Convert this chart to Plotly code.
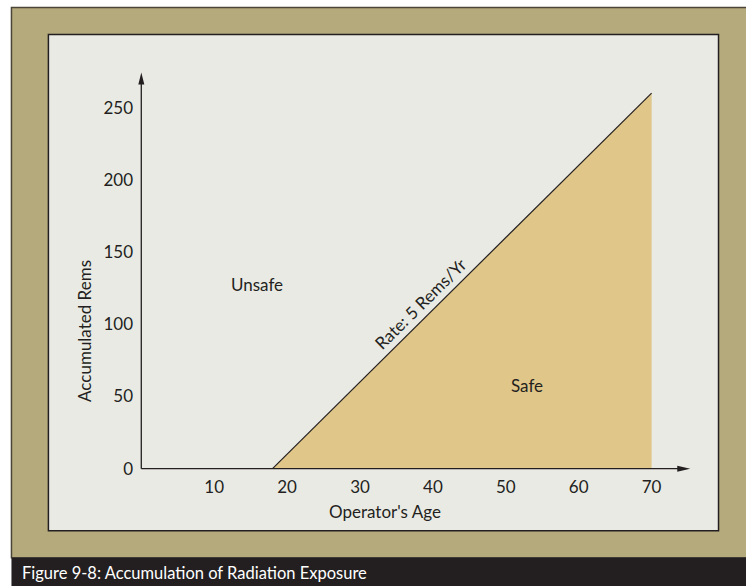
import plotly.graph_objects as go

# --- data -------------------------------------------------------------
safe_ages = [18, 70]          # operator's age where the 5 rem/yr allowance runs
safe_rems = [0, 260]          # accumulated rems at those ages (5 * (age - 18))
x_ticks = [10, 20, 30, 40, 50, 60, 70]
y_ticks = [0, 50, 100, 150, 200, 250]
x_axis_end = 75.3             # tip of the age axis arrow
y_axis_end = 274.2            # tip of the rems axis arrow

# --- styling ----------------------------------------------------------
FONT = "Lato, Roboto, sans-serif"
INK = "#231f20"
FRAME = "#b5aa7c"
PANEL = "#eaeae5"
SAFE_FILL = "#e0c688"

W, H = 746, 586
X_RANGE = [-1.0, 76.5]
Y_RANGE = [-3.0, 276.0]
PX_X = 7.3      # pixels per year
PX_Y = 1.444    # pixels per rem
ORIGIN = (141, 469)  # pixel position of (0, 0)

plot_w = (X_RANGE[1] - X_RANGE[0]) * PX_X
plot_h = (Y_RANGE[1] - Y_RANGE[0]) * PX_Y
m_l = ORIGIN[0] + X_RANGE[0] * PX_X
m_b = H - (ORIGIN[1] - Y_RANGE[0] * PX_Y)
m_t = H - m_b - plot_h
m_r = W - m_l - plot_w


def px(x):
    return (x - m_l) / plot_w


def py(y):
    return (H - m_b - y) / plot_h


fig = go.Figure()

# safe region under the allowance line
fig.add_trace(go.Scatter(
    x=[safe_ages[0], safe_ages[1], safe_ages[1]],
    y=[safe_rems[0], safe_rems[1], safe_rems[0]],
    fill="toself", fillcolor=SAFE_FILL, mode="lines",
    line=dict(width=0), hoverinfo="skip", showlegend=False,
))
# allowance line
fig.add_trace(go.Scatter(
    x=safe_ages, y=safe_rems, mode="lines",
    line=dict(color=INK, width=1.2), hoverinfo="skip", showlegend=False,
))
# axis lines
fig.add_trace(go.Scatter(
    x=[0, x_axis_end - 1.0], y=[0, 0], mode="lines",
    line=dict(color=INK, width=1.3), hoverinfo="skip", showlegend=False,
))
fig.add_trace(go.Scatter(
    x=[0, 0], y=[0, y_axis_end - 6], mode="lines",
    line=dict(color=INK, width=1.3), hoverinfo="skip", showlegend=False,
))

shapes = [
    # outer tan frame
    dict(type="rect", xref="paper", yref="paper", layer="below",
         x0=px(11), x1=px(760), y0=py(558), y1=py(8),
         fillcolor=FRAME, line=dict(color="#4a4538", width=1.5)),
    # caption bar
    dict(type="rect", xref="paper", yref="paper", layer="below",
         x0=px(11), x1=px(760), y0=py(600), y1=py(558),
         fillcolor=INK, line=dict(width=0)),
    # inner panel
    dict(type="rect", xref="paper", yref="paper", layer="below",
         x0=px(48), x1=px(719), y0=py(531), y1=py(35),
         fillcolor=PANEL, line=dict(color=INK, width=1.5)),
    # arrowheads
    dict(type="path", xref="x", yref="y", fillcolor=INK, line=dict(width=0),
         path=f"M {x_axis_end},0 L {x_axis_end - 13 / PX_X},{3 / PX_Y} "
              f"L {x_axis_end - 13 / PX_X},{-3 / PX_Y} Z"),
    dict(type="path", xref="x", yref="y", fillcolor=INK, line=dict(width=0),
         path=f"M 0,{y_axis_end} L {3 / PX_X},{y_axis_end - 12 / PX_Y} "
              f"L {-3 / PX_X},{y_axis_end - 12 / PX_Y} Z"),
]

txt = dict(family=FONT, size=17, color=INK)
annotations = [
    dict(text="Unsafe", x=15.9, y=127.4, xref="x", yref="y",
         showarrow=False, font=txt),
    dict(text="Safe", x=52.9, y=57.5, xref="x", yref="y",
         showarrow=False, font=txt),
    dict(text="Rate: 5 Rems/Yr", x=38.3, y=114.5, xref="x", yref="y",
         showarrow=False, font=txt, textangle=-44.7),
    dict(text="Operator's Age", x=33.4, y=py(512), xref="x", yref="paper",
         xanchor="center", yanchor="middle", showarrow=False, font=txt),
    dict(text="Accumulated Rems", x=px(84), y=95.6, xref="paper", yref="y",
         xanchor="center", yanchor="middle", showarrow=False, font=txt,
         textangle=-90),
    dict(text="Figure 9-8: Accumulation of Radiation Exposure",
         x=px(20), y=py(573), xref="paper", yref="paper",
         xanchor="left", yanchor="middle", showarrow=False,
         font=dict(family=FONT, size=16.5, color="#ffffff")),
]

fig.update_layout(
    width=W, height=H,
    margin=dict(l=m_l, r=m_r, t=m_t, b=m_b, autoexpand=False),
    paper_bgcolor="#ffffff", plot_bgcolor="rgba(0,0,0,0)",
    shapes=shapes, annotations=annotations,
    font=txt,
)
fig.update_xaxes(
    range=X_RANGE, tickvals=x_ticks, ticktext=[str(v) for v in x_ticks],
    showgrid=False, zeroline=False, showline=False, ticks="",
    ticklabelstandoff=2, tickfont=txt, fixedrange=True,
)
fig.update_yaxes(
    range=Y_RANGE, tickvals=y_ticks, ticktext=[str(v) for v in y_ticks],
    showgrid=False, zeroline=False, showline=False, ticks="",
    ticklabelstandoff=0, tickfont=txt, fixedrange=True,
)

fig.write_html("out.html")
